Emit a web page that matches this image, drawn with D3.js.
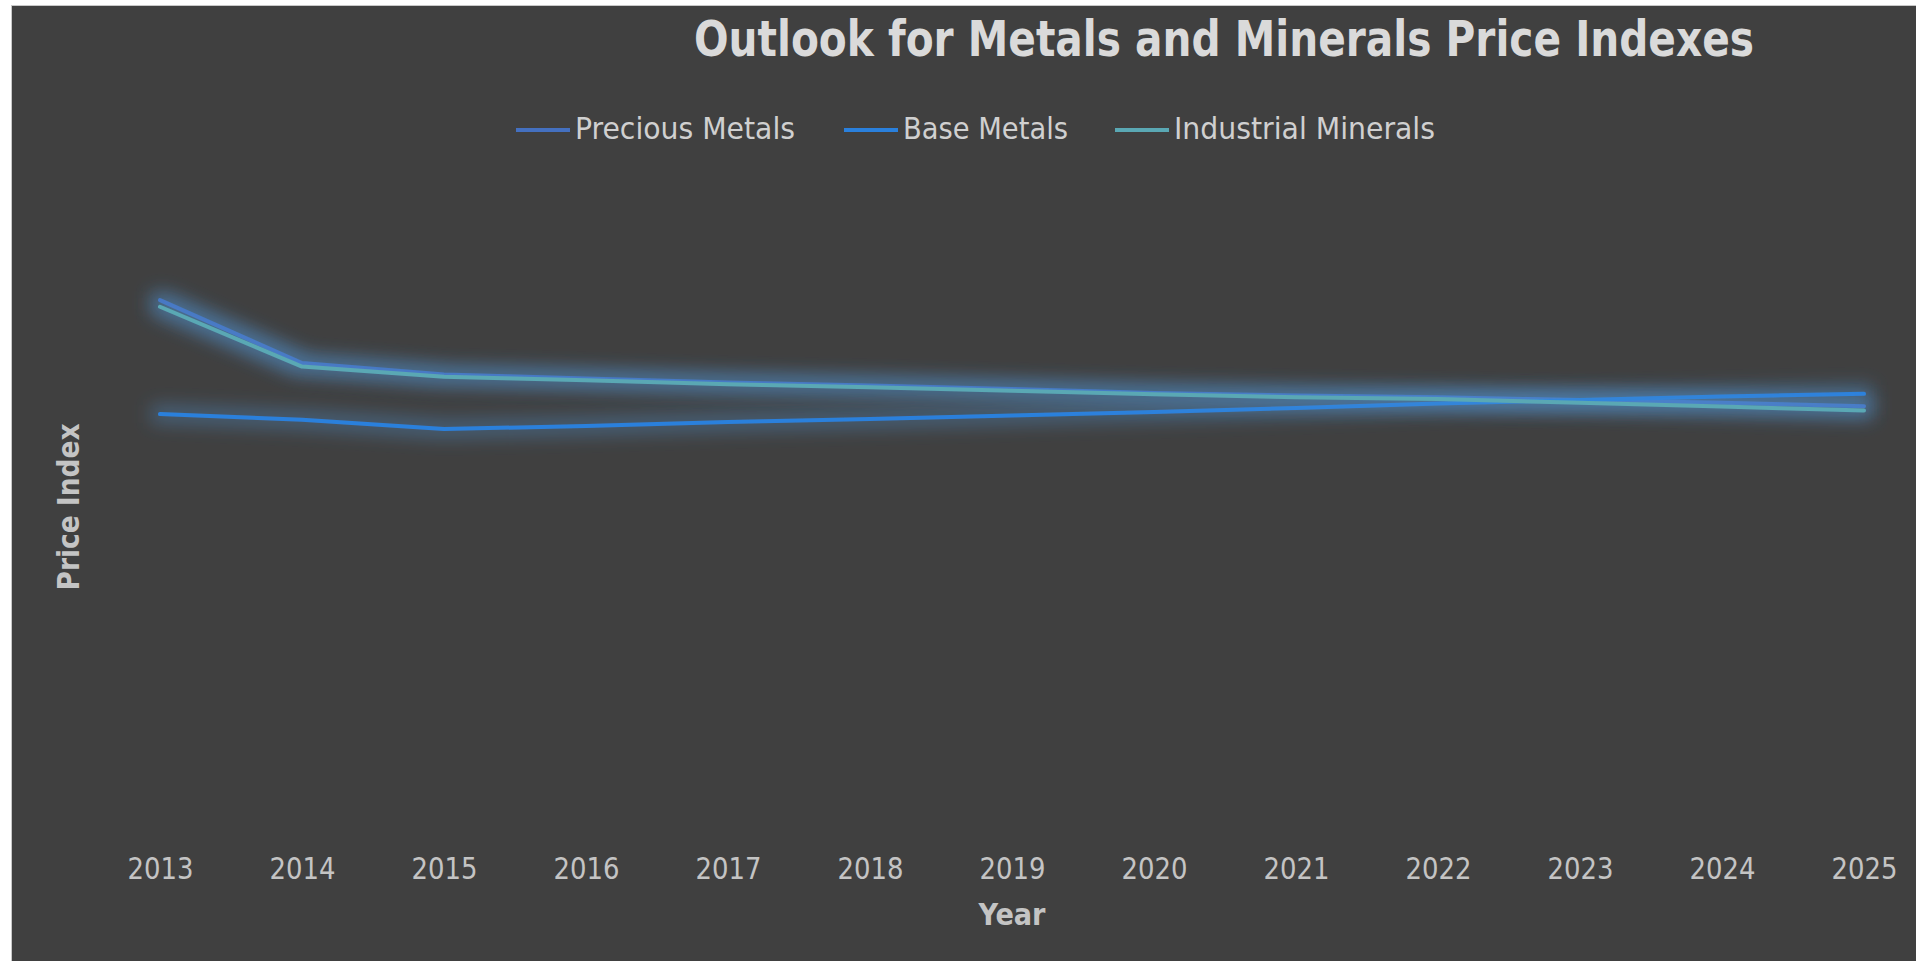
<!DOCTYPE html>
<html>
<head>
<meta charset="utf-8">
<script src="https://cdn.jsdelivr.net/npm/d3@7"></script>
<style>
  body { margin: 0; background: #ffffff; }
  svg text { font-family: "Liberation Sans Narrow", "DejaVu Sans Condensed", sans-serif; }
</style>
</head>
<body>
<div id="container"></div>
<script>
var width = 1916, height = 961;

// data (index, no y labels shown)
var years = ["2013", "2014", "2015", "2016", "2017", "2018", "2019", "2020", "2021", "2022", "2023", "2024", "2025"];
var preciousMetals = [122.7, 108.4, 105.8, 104.9, 104.0, 103.3, 102.5, 101.6, 101.0, 100.6, 100.0, 99.4, 98.6];
var baseMetals = [96.8, 95.5, 93.4, 94.1, 95.0, 95.7, 96.5, 97.3, 98.2, 99.2, 100.0, 100.8, 101.4];
var industrialMinerals = [121.2, 107.6, 105.3, 104.5, 103.6, 102.9, 102.1, 101.3, 100.6, 100.2, 99.4, 98.5, 97.6];
var seriesNames = ["Precious Metals", "Base Metals", "Industrial Minerals"];
var seriesColors = ["#4470c0", "#2a80dc", "#5aa8b4"];

var series = [
  { name: seriesNames[0], values: preciousMetals, color: seriesColors[0] },
  { name: seriesNames[1], values: baseMetals, color: seriesColors[1] },
  { name: seriesNames[2], values: industrialMinerals, color: seriesColors[2] }
];

var svg = d3.select("#container")
  .append("svg")
  .attr("width", width)
  .attr("height", height);

// glow effect like the excel line glow
var defs = svg.append("defs");
var glow = defs.append("filter")
  .attr("id", "glow")
  .attr("filterUnits", "userSpaceOnUse")
  .attr("x", 0).attr("y", 0)
  .attr("width", width).attr("height", height);
glow.append("feMorphology").attr("in", "SourceAlpha").attr("operator", "dilate").attr("radius", 7).attr("result", "thick");
glow.append("feFlood").attr("flood-color", "#4f94d4").attr("flood-opacity", 0.38).attr("result", "col");
glow.append("feComposite").attr("in", "col").attr("in2", "thick").attr("operator", "in").attr("result", "colThick");
glow.append("feGaussianBlur").attr("in", "colThick").attr("stdDeviation", 9).attr("result", "blur");
var merge = glow.append("feMerge");
merge.append("feMergeNode").attr("in", "blur");
merge.append("feMergeNode").attr("in", "SourceGraphic");

// chart area
svg.append("rect")
  .attr("x", 11.5).attr("y", 5.5)
  .attr("width", width).attr("height", height)
  .attr("fill", "#404040")
  .attr("stroke", "#c8c8c8")
  .attr("stroke-width", 1);

var x = d3.scalePoint().domain(years).range([160, 1864]);
var y = d3.scaleLinear().domain([0, 150]).range([840, 180]);

// title
svg.append("text")
  .attr("x", 1224).attr("y", 56)
  .attr("text-anchor", "middle")
  .attr("font-size", 49)
  .attr("font-weight", "bold")
  .attr("fill", "#dadada")
  .attr("textLength", 1060)
  .attr("lengthAdjust", "spacingAndGlyphs")
  .text("Outlook for Metals and Minerals Price Indexes");

// legend
var legendX = [516, 844, 1115];
var legendW = [220, 165, 261];
var legend = svg.append("g");
series.forEach(function(s, i) {
  legend.append("line")
    .attr("x1", legendX[i]).attr("x2", legendX[i] + 54)
    .attr("y1", 130).attr("y2", 130)
    .attr("stroke", s.color)
    .attr("stroke-width", 4);
  legend.append("text")
    .attr("x", legendX[i] + 59).attr("y", 139)
    .attr("font-size", 30)
    .attr("fill", "#d0d0d0")
    .attr("textLength", legendW[i])
    .attr("lengthAdjust", "spacingAndGlyphs")
    .text(s.name);
});

// x axis
var xAxis = svg.append("g")
  .attr("transform", "translate(0,840)")
  .call(d3.axisBottom(x).tickSize(0).tickPadding(17));
xAxis.select(".domain").remove();
xAxis.selectAll("text")
  .attr("font-size", 31)
  .attr("fill", "#c4c4c4")
  .attr("textLength", 66)
  .attr("lengthAdjust", "spacingAndGlyphs");

// axis titles
svg.append("text")
  .attr("x", 1012).attr("y", 925)
  .attr("text-anchor", "middle")
  .attr("font-size", 31)
  .attr("font-weight", "bold")
  .attr("fill", "#c4c4c4")
  .attr("textLength", 67)
  .attr("lengthAdjust", "spacingAndGlyphs")
  .text("Year");

svg.append("text")
  .attr("transform", "translate(79,507) rotate(-90)")
  .attr("text-anchor", "middle")
  .attr("font-size", 31)
  .attr("font-weight", "bold")
  .attr("fill", "#c4c4c4")
  .style("font-family", "'DejaVu Sans', sans-serif")
  .attr("textLength", 167)
  .attr("lengthAdjust", "spacingAndGlyphs")
  .text("Price Index");

// lines
var line = d3.line()
  .x(function(d, i) { return x(years[i]); })
  .y(function(d) { return y(d); });

svg.append("g").selectAll("path")
  .data(series)
  .enter()
  .append("path")
  .attr("d", function(d) { return line(d.values); })
  .attr("fill", "none")
  .attr("stroke", function(d) { return d.color; })
  .attr("stroke-width", 4)
  .attr("stroke-linejoin", "round")
  .attr("stroke-linecap", "round")
  .attr("filter", "url(#glow)");
</script>
</body>
</html>
